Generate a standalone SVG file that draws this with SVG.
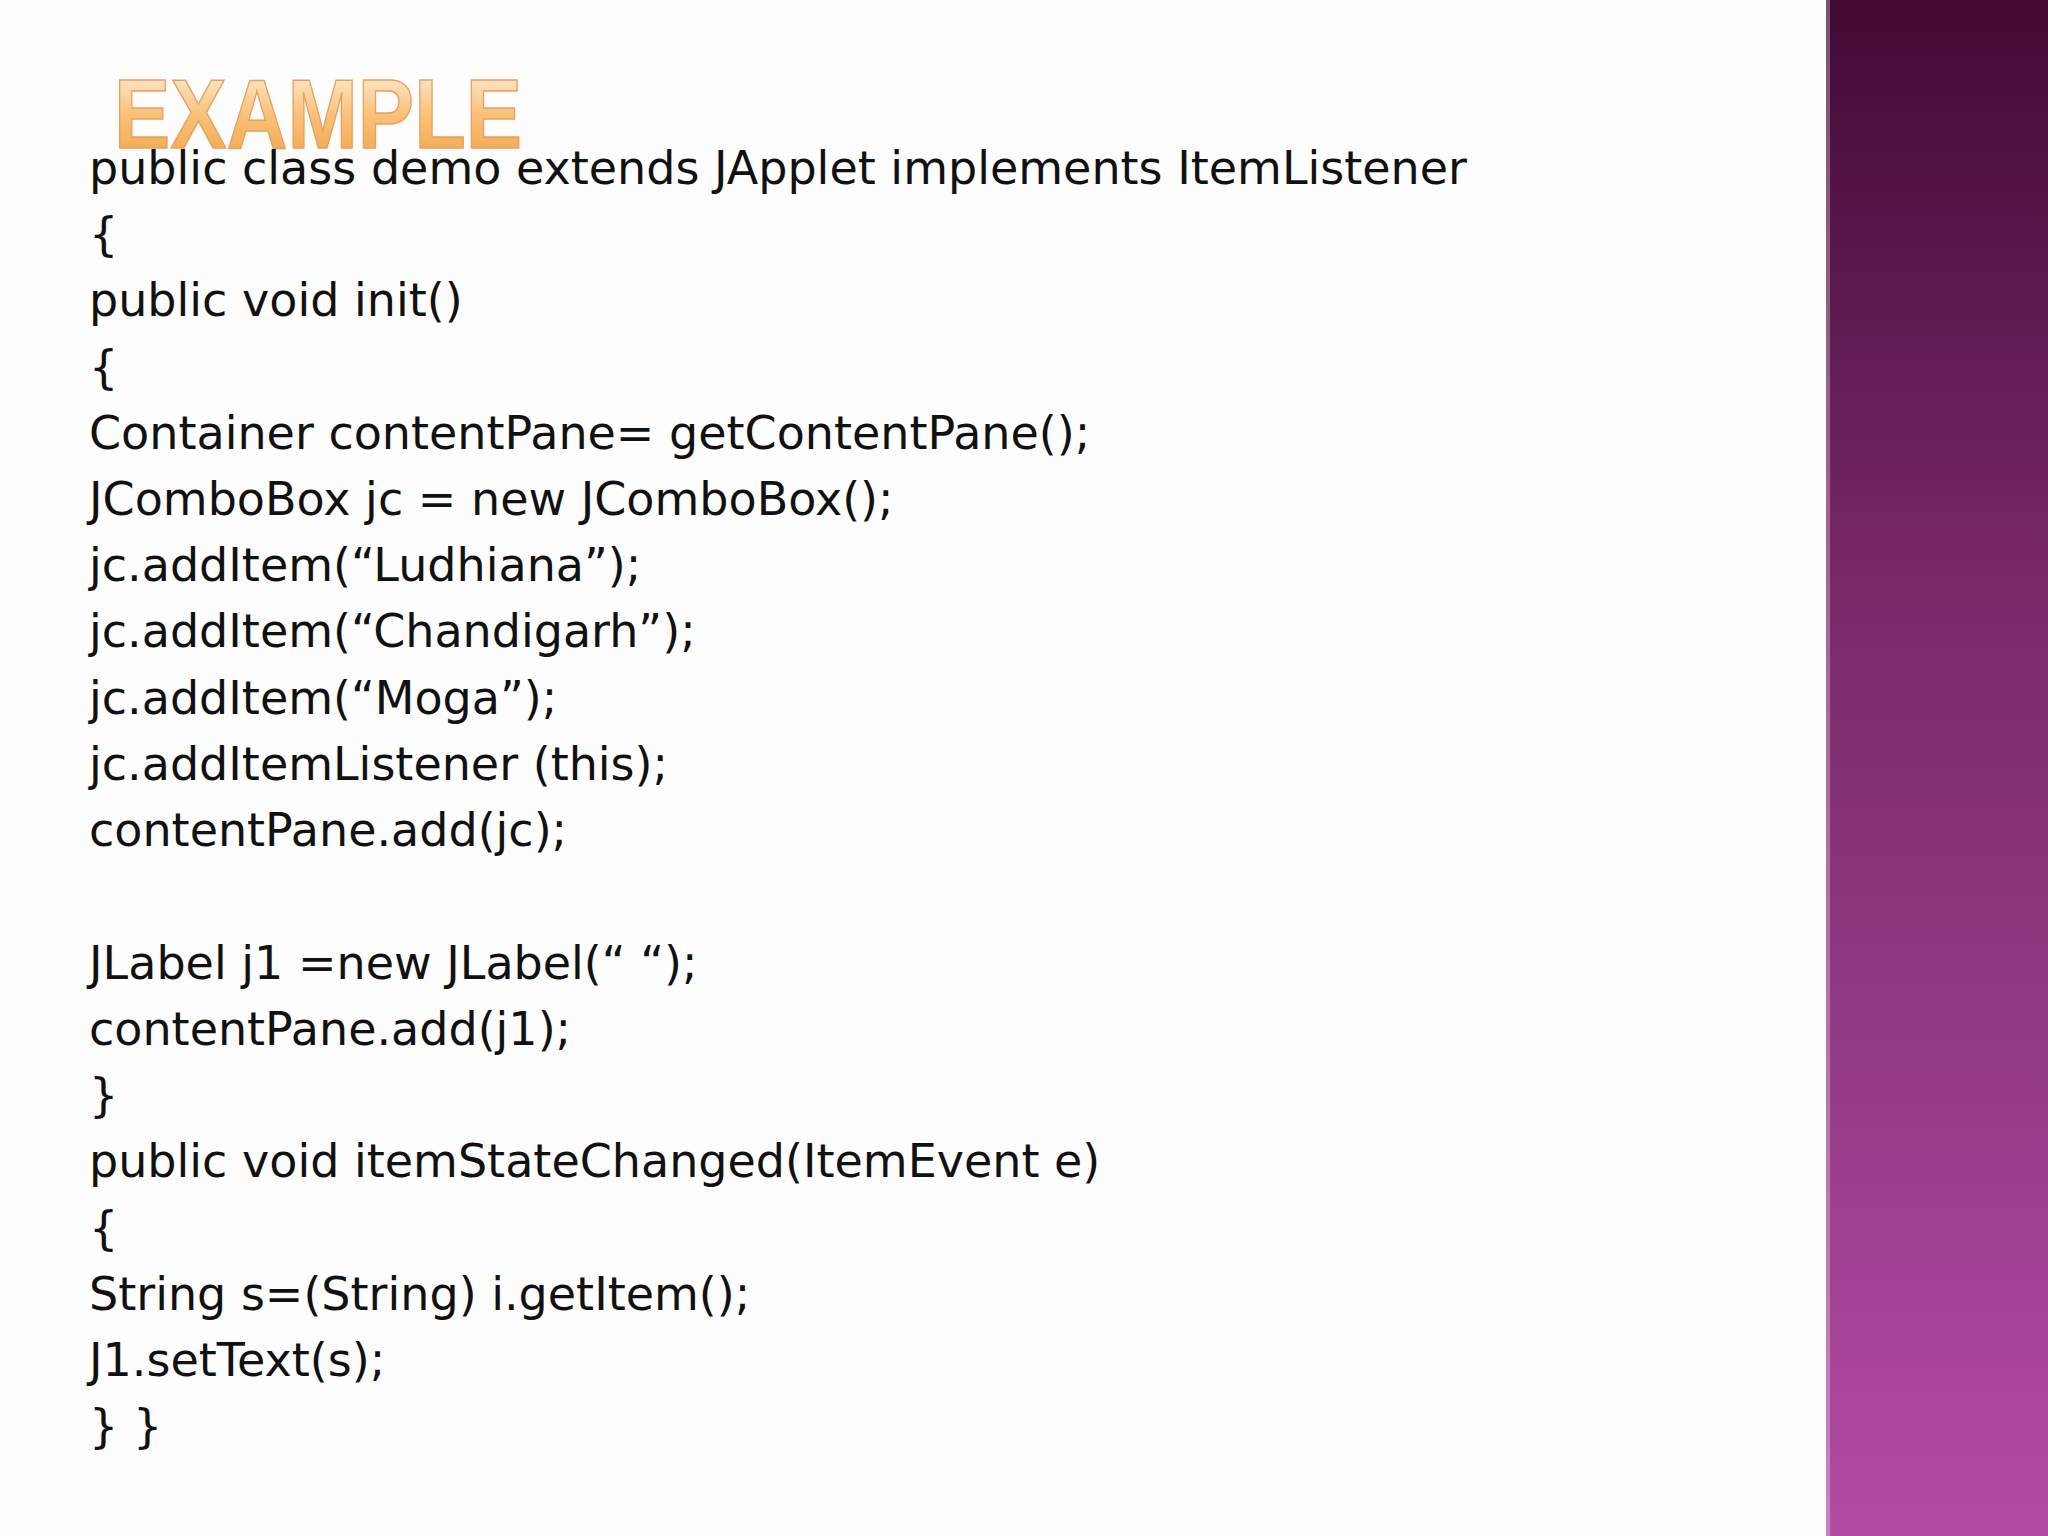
<svg xmlns="http://www.w3.org/2000/svg" width="2048" height="1536" viewBox="0 0 2048 1536">
<defs>
<linearGradient id="side" x1="0" y1="0" x2="0" y2="1">
<stop offset="0" stop-color="#420a35"/>
<stop offset="0.4" stop-color="#7a2a6a"/>
<stop offset="1" stop-color="#b24ba4"/>
</linearGradient>
<linearGradient id="title" x1="0" y1="0" x2="0" y2="1">
<stop offset="0" stop-color="#fff6ea"/>
<stop offset="0.5" stop-color="#f9c27a"/>
<stop offset="1" stop-color="#f0a040"/>
</linearGradient>
<style>
.code{font-family:"DejaVu Sans","Liberation Sans",sans-serif;font-size:46px;fill:#111;white-space:pre;}
</style>
</defs>
<rect width="2048" height="1536" fill="#fdfdfd"/>
<rect x="1826" y="0" width="222" height="1536" fill="url(#side)"/>
<rect x="1826" y="0" width="4" height="1536" fill="#ffffff" opacity="0.3"/>
<text x="114" y="148" font-family="'Liberation Sans',sans-serif" font-size="98" font-weight="bold" fill="url(#title)" stroke="#e8a060" stroke-width="1.5" textLength="408" lengthAdjust="spacingAndGlyphs">EXAMPLE</text>
<g class="code">
<text x="89" y="184" textLength="1378" lengthAdjust="spacingAndGlyphs">public class demo extends JApplet implements ItemListener</text>
<text x="89" y="250"> {</text>
<text x="89" y="316">public void init()</text>
<text x="89" y="383">{</text>
<text x="89" y="449">Container contentPane=  getContentPane();</text>
<text x="89" y="515">JComboBox jc = new JComboBox();</text>
<text x="89" y="581">jc.addItem(“Ludhiana”);</text>
<text x="89" y="647">jc.addItem(“Chandigarh”);</text>
<text x="89" y="714">jc.addItem(“Moga”);</text>
<text x="89" y="780">jc.addItemListener (this);</text>
<text x="89" y="846">contentPane.add(jc);</text>
<text x="89" y="979">JLabel  j1 =new JLabel(“ “);</text>
<text x="89" y="1045">contentPane.add(j1);</text>
<text x="89" y="1111">}</text>
<text x="89" y="1177">public void itemStateChanged(ItemEvent e)</text>
<text x="89" y="1244"> {</text>
<text x="89" y="1310">String s=(String) i.getItem();</text>
<text x="89" y="1376">J1.setText(s);</text>
<text x="89" y="1442">} }</text>
</g>
</svg>
